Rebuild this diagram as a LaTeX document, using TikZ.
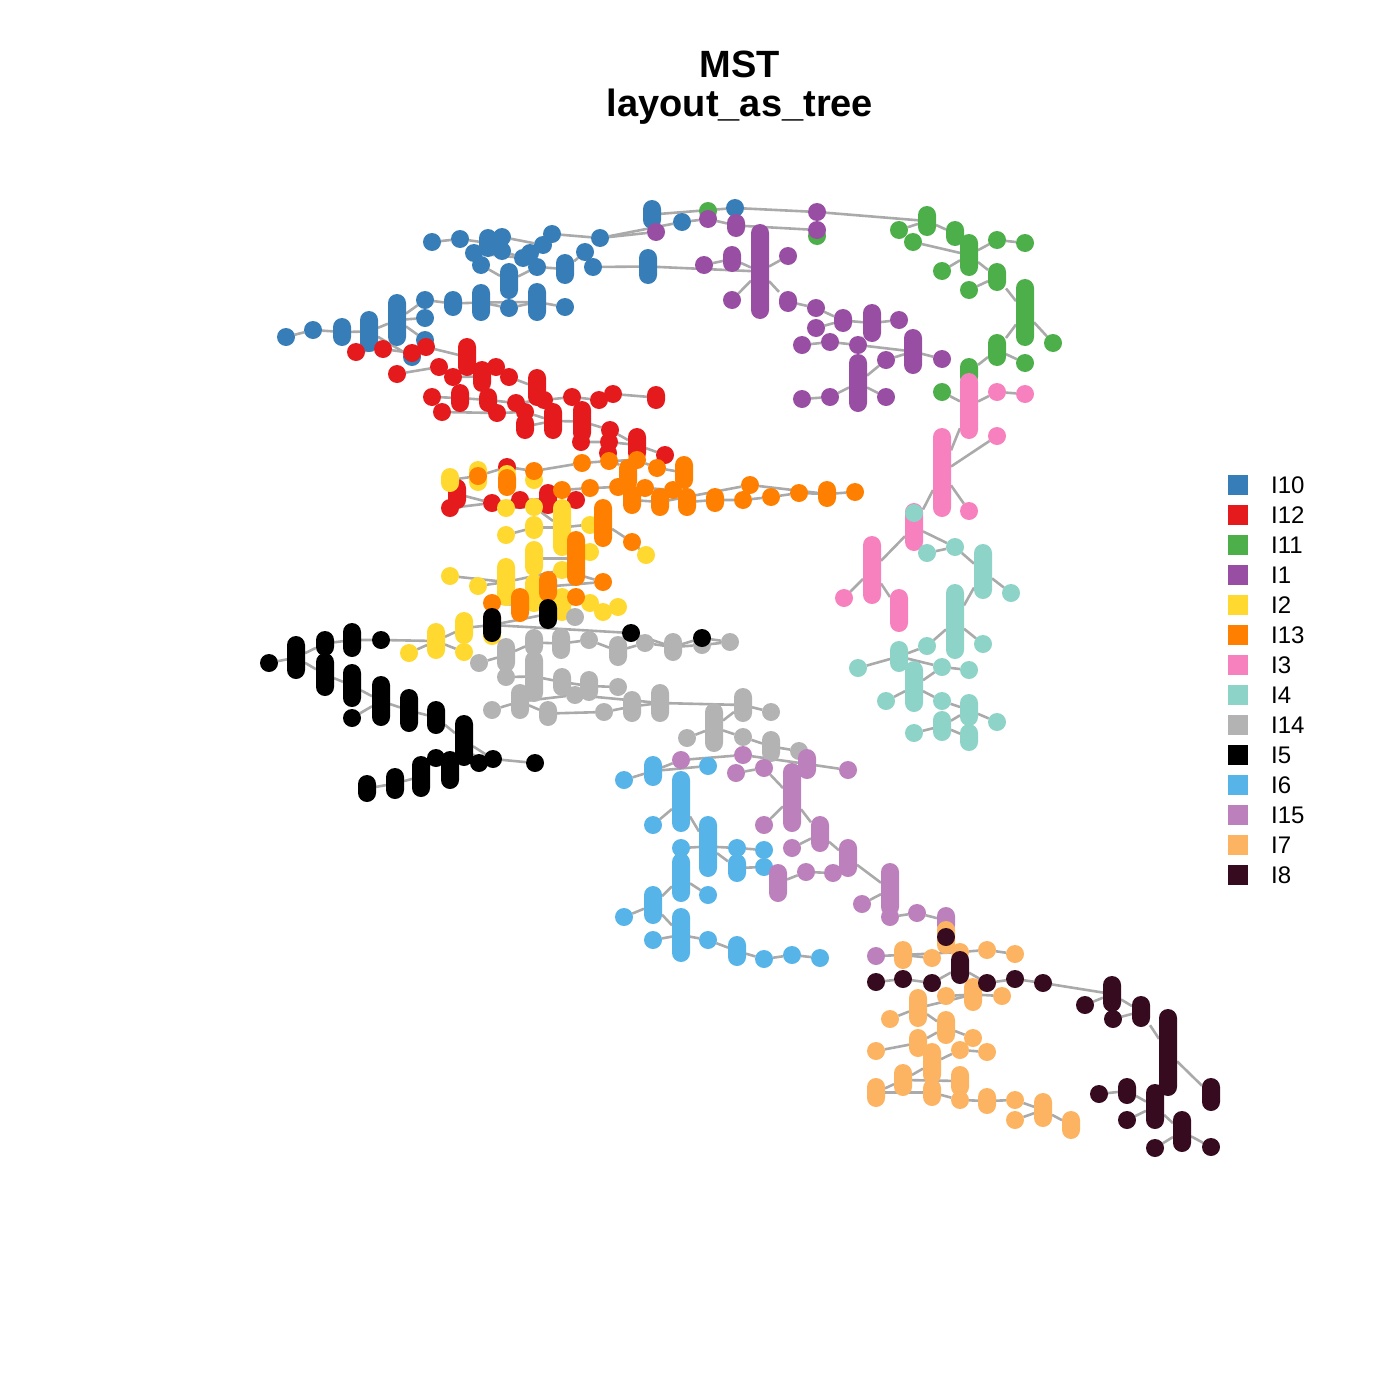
\documentclass[tikz,border=0pt]{standalone}
\usepackage{fontspec}
\setmainfont{Liberation Sans}
\usetikzlibrary{backgrounds}
\definecolor{cA}{HTML}{377EB8}
\definecolor{cB}{HTML}{E41A1C}
\definecolor{cC}{HTML}{4DAF4A}
\definecolor{cD}{HTML}{984EA3}
\definecolor{cE}{HTML}{FFD92F}
\definecolor{cF}{HTML}{FF7F00}
\definecolor{cG}{HTML}{F781BF}
\definecolor{cH}{HTML}{8DD3C7}
\definecolor{cI}{HTML}{B3B3B3}
\definecolor{cJ}{HTML}{000000}
\definecolor{cK}{HTML}{56B4E9}
\definecolor{cL}{HTML}{BC80BD}
\definecolor{cM}{HTML}{FDB462}
\definecolor{cN}{HTML}{360A1F}
\definecolor{edgec}{HTML}{AAAAAA}
\tikzset{
  dotn/.style={circle,inner sep=0pt,outer sep=0pt,minimum size=18pt},
  capn/.style={rectangle,inner sep=0pt,outer sep=0pt,minimum width=18pt,rounded corners=9pt},
  edge/.style={draw=edgec,line width=2.6pt},
  legbox/.style={rectangle,inner sep=0pt,minimum size=20pt},
  legtxt/.style={anchor=west,inner sep=0pt,font=\fontsize{24}{28}\selectfont},
  ttl/.style={inner sep=0pt,font=\fontsize{38}{44}\selectfont\bfseries}
}
\newcommand\dotA[4]{\node[dotn,fill=#2] (#1) at (#3,#4) {};}
\newcommand\capA[5]{\node[capn,fill=#2,minimum height={(#5-#4+18)*1pt}] (#1) at (#3,{(#4+#5)/2}) {};}
\begin{document}
\begin{tikzpicture}[x=1pt,y=-1pt]
\useasboundingbox (0,0) rectangle (1400,1400);
% title
\node[ttl,anchor=base] (t1title) at (740,77) {MST};
\node[ttl,anchor=base] (t2title) at (740,116) {layout\_as\_tree};
% ---------- I10 blue
\capA{b1}{cA}{652}{209}{220}
\dotA{e0}{cC}{708}{211}
\dotA{b3}{cA}{735}{208}
\dotA{b4}{cA}{682}{222}
\dotA{b5}{cA}{432}{242}
\dotA{b6}{cA}{460}{239}
\capA{b7}{cA}{488}{238}{248}
\dotA{b8}{cA}{502}{237}
\dotA{b9}{cA}{502}{251}
\dotA{b10}{cA}{543}{245}
\dotA{b11}{cA}{552}{234}
\dotA{b12}{cA}{600}{238}
\dotA{b13}{cA}{474}{253}
\dotA{b14}{cA}{481}{265}
\capA{b15}{cA}{509}{272}{290}
\dotA{b16}{cA}{523}{258}
\dotA{b17}{cA}{530}{253}
\dotA{b18}{cA}{537}{267}
\capA{b19}{cA}{565}{263}{275}
\dotA{b20}{cA}{585}{252}
\dotA{b21}{cA}{593}{267}
\capA{b22}{cA}{648}{258}{275}
\dotA{b23}{cA}{425}{300}
\capA{b24}{cA}{453}{300}{307}
\capA{b25}{cA}{481}{293}{312}
\dotA{b26}{cA}{509}{308}
\capA{b27}{cA}{537}{292}{312}
\dotA{b28}{cA}{565}{307}
\capA{b29}{cA}{397}{303}{337}
\dotA{b30}{cA}{425}{318}
\dotA{b31}{cA}{425}{340}
\capA{b32}{cA}{369}{320}{343}
\capA{b33}{cA}{342}{327}{337}
\dotA{b34}{cA}{313}{330}
\dotA{b35}{cA}{286}{337}
\dotA{b36}{cA}{412}{357}
% ---------- I11 green
\dotA{e00}{cC}{817}{236}
\capA{e1}{cC}{927}{215}{227}
\dotA{e2}{cC}{899}{230}
\dotA{e3}{cC}{913}{242}
\capA{e4}{cC}{955}{230}{237}
\capA{e5}{cC}{969}{243}{267}
\dotA{e6}{cC}{997}{240}
\dotA{e7}{cC}{1025}{243}
\dotA{e8}{cC}{942}{271}
\capA{e9}{cC}{997}{272}{282}
\dotA{e10}{cC}{969}{290}
\capA{e11}{cC}{1025}{288}{337}
\dotA{e12}{cC}{1053}{343}
\capA{e13}{cC}{997}{343}{357}
\dotA{e14}{cC}{1025}{363}
\capA{e15}{cC}{969}{367}{377}
\dotA{e16}{cC}{942}{392}
% ---------- I1 purple
\dotA{p0}{cD}{656}{232}
\dotA{p1}{cD}{708}{219}
\capA{p2}{cD}{736}{223}{228}
\dotA{p3}{cD}{817}{212}
\dotA{p4}{cD}{817}{230}
\capA{p5}{cD}{760}{233}{310}
\capA{p6}{cD}{732}{255}{263}
\dotA{p7}{cD}{704}{265}
\dotA{p8}{cD}{788}{256}
\dotA{p9}{cD}{732}{300}
\capA{p10}{cD}{788}{300}{303}
\dotA{p11}{cD}{816}{308}
\dotA{p12}{cD}{816}{328}
\capA{p13}{cD}{843}{318}{323}
\capA{p14}{cD}{872}{313}{333}
\dotA{p15}{cD}{899}{320}
\dotA{p16}{cD}{802}{345}
\dotA{p17}{cD}{830}{342}
\dotA{p18}{cD}{858}{345}
\capA{p19}{cD}{913}{338}{365}
\dotA{p20}{cD}{886}{360}
\dotA{p21}{cD}{942}{359}
\capA{p22}{cD}{858}{363}{403}
\dotA{p23}{cD}{802}{399}
\dotA{p24}{cD}{830}{397}
\dotA{p25}{cD}{886}{397}
% ---------- I3 pink
\capA{i1}{cG}{969}{382}{430}
\dotA{i2}{cG}{997}{392}
\dotA{i3}{cG}{1025}{394}
\capA{i4}{cG}{942}{437}{508}
\dotA{i5}{cG}{997}{436}
\dotA{i6}{cG}{969}{511}
\capA{i7}{cG}{914}{512}{542}
\capA{i8}{cG}{872}{545}{595}
\dotA{i9}{cG}{844}{598}
\capA{i10}{cG}{899}{598}{623}
% ---------- I4 teal
\dotA{a1}{cH}{914}{513}
\dotA{a2}{cH}{927}{553}
\dotA{a3}{cH}{955}{547}
\capA{a4}{cH}{983}{553}{590}
\dotA{a5}{cH}{1011}{593}
\capA{a6}{cH}{955}{593}{650}
\dotA{a7}{cH}{927}{646}
\dotA{a8}{cH}{983}{644}
\capA{a9}{cH}{899}{650}{663}
\dotA{a10}{cH}{858}{668}
\dotA{a11}{cH}{942}{667}
\dotA{a12}{cH}{969}{670}
\capA{a13}{cH}{914}{670}{703}
\dotA{a14}{cH}{886}{701}
\dotA{a15}{cH}{942}{701}
\capA{a16}{cH}{969}{703}{717}
\dotA{a17}{cH}{997}{722}
\dotA{a18}{cH}{914}{733}
\capA{a19}{cH}{942}{720}{732}
\capA{a20}{cH}{969}{733}{742}
% ---------- I12 red
\dotA{r1}{cB}{356}{352}
\dotA{r2}{cB}{383}{349}
\dotA{r3}{cB}{412}{353}
\dotA{r4}{cB}{426}{347}
\capA{r5}{cB}{467}{347}{367}
\dotA{r6}{cB}{397}{374}
\dotA{r7}{cB}{439}{367}
\dotA{r8}{cB}{453}{377}
\capA{r9}{cB}{482}{370}{383}
\dotA{r10}{cB}{496}{367}
\dotA{r11}{cB}{509}{377}
\capA{r12}{cB}{537}{378}{397}
\dotA{r13}{cB}{432}{397}
\capA{r14}{cB}{460}{393}{403}
\capA{r15}{cB}{488}{397}{403}
\dotA{r16}{cB}{442}{412}
\dotA{r17}{cB}{497}{413}
\dotA{r18}{cB}{516}{403}
\dotA{r19}{cB}{525}{412}
\dotA{r20}{cB}{544}{400}
\capA{r21}{cB}{553}{412}{430}
\capA{r22}{cB}{525}{423}{430}
\dotA{r23}{cB}{572}{397}
\dotA{r24}{cB}{599}{400}
\dotA{r25}{cB}{613}{394}
\capA{r26}{cB}{656}{395}{400}
\capA{r27}{cB}{582}{410}{433}
\dotA{r28}{cB}{610}{430}
\capA{r29}{cB}{637}{437}{453}
\dotA{r30}{cB}{581}{442}
\dotA{r31}{cB}{609}{442}
\dotA{r32}{cB}{665}{455}
\dotA{r33}{cB}{507}{467}
\dotA{r34}{cB}{608}{453}
\capA{r35}{cB}{457}{488}{500}
\dotA{r36}{cB}{450}{508}
\dotA{r37}{cB}{492}{503}
\dotA{r38}{cB}{520}{500}
\capA{r39}{cB}{548}{493}{505}
\dotA{r40}{cB}{576}{500}
% ---------- I2 yellow
\capA{y1}{cE}{450}{477}{483}
\capA{y2}{cE}{478}{470}{482}
\dotA{y3}{cE}{534}{480}
\dotA{y4}{cE}{507}{474}
\dotA{y5}{cE}{506}{508}
\dotA{y6}{cE}{534}{507}
\capA{y7}{cE}{562}{508}{547}
\dotA{y8}{cE}{590}{525}
\dotA{y9}{cE}{506}{535}
\capA{y10}{cE}{534}{525}{530}
\dotA{y11}{cE}{646}{555}
\capA{y12}{cE}{534}{550}{567}
\dotA{y13}{cE}{590}{552}
\dotA{y14}{cE}{450}{576}
\dotA{y15}{cE}{478}{586}
\capA{y16}{cE}{506}{567}{597}
\dotA{y17}{cE}{562}{570}
\capA{y18}{cE}{534}{583}{603}
\dotA{y19}{cE}{590}{603}
\dotA{y20}{cE}{603}{612}
\dotA{y21}{cE}{618}{607}
\capA{y22}{cE}{562}{597}{612}
\capA{y23}{cE}{464}{621}{635}
\capA{y24}{cE}{436}{632}{650}
\dotA{y25}{cE}{409}{653}
\dotA{y26}{cE}{464}{652}
\dotA{y27}{cE}{492}{636}
% ---------- I13 orange
\dotA{o1}{cF}{478}{476}
\dotA{o2}{cF}{534}{471}
\capA{o3}{cF}{507}{478}{487}
\dotA{o4}{cF}{582}{463}
\dotA{o5}{cF}{609}{461}
\dotA{o6}{cF}{637}{460}
\capA{o6b}{cF}{628}{468}{482}
\dotA{o7}{cF}{657}{468}
\capA{o8}{cF}{684}{465}{480}
\dotA{o9}{cF}{562}{490}
\dotA{o10}{cF}{590}{488}
\dotA{o11}{cF}{618}{487}
\dotA{o12}{cF}{645}{488}
\capA{o13}{cF}{632}{495}{505}
\capA{o14}{cF}{660}{497}{507}
\dotA{o15}{cF}{673}{490}
\capA{o16}{cF}{687}{497}{507}
\capA{o17}{cF}{715}{497}{503}
\dotA{o18}{cF}{743}{500}
\dotA{o19}{cF}{750}{485}
\dotA{o20}{cF}{771}{497}
\dotA{o21}{cF}{799}{493}
\capA{o22}{cF}{827}{490}{498}
\dotA{o23}{cF}{855}{492}
\capA{o24}{cF}{603}{508}{538}
\dotA{o25}{cF}{632}{542}
\capA{o26}{cF}{576}{540}{577}
\capA{o27}{cF}{548}{580}{593}
\dotA{o28}{cF}{603}{582}
\dotA{o29}{cF}{576}{597}
\capA{o30}{cF}{520}{597}{613}
\dotA{o31}{cF}{492}{603}
% ---------- I14 gray
\dotA{g1}{cI}{575}{617}
\dotA{g2}{cI}{479}{663}
\capA{g3}{cI}{506}{647}{663}
\capA{g4}{cI}{534}{638}{647}
\capA{g5}{cI}{561}{637}{650}
\dotA{g6}{cI}{589}{640}
\capA{g7}{cI}{618}{645}{657}
\dotA{g8}{cI}{645}{643}
\capA{g9}{cI}{673}{642}{652}
\dotA{g10}{cI}{702}{645}
\dotA{g11}{cI}{730}{642}
\dotA{g12}{cI}{506}{677}
\capA{g13}{cI}{534}{660}{693}
\capA{g14}{cI}{562}{677}{687}
\capA{g15}{cI}{589}{680}{692}
\dotA{g16}{cI}{618}{687}
\capA{g17}{cI}{520}{693}{710}
\dotA{g18}{cI}{492}{710}
\capA{g19}{cI}{548}{710}{717}
\dotA{g20}{cI}{575}{695}
\dotA{g21}{cI}{604}{712}
\capA{g22}{cI}{632}{700}{713}
\capA{g23}{cI}{660}{693}{713}
\capA{g24}{cI}{743}{697}{713}
\dotA{g25}{cI}{771}{712}
\capA{g26}{cI}{714}{712}{743}
\dotA{g27}{cI}{687}{738}
\dotA{g28}{cI}{743}{737}
\capA{g29}{cI}{771}{740}{753}
\dotA{g30}{cI}{799}{751}
% ---------- I5 black
\capA{k1}{cJ}{492}{617}{633}
\capA{k2}{cJ}{548}{608}{620}
\dotA{k3}{cJ}{631}{633}
\dotA{k4}{cJ}{702}{638}
\dotA{k5}{cJ}{381}{640}
\capA{k6}{cJ}{352}{632}{648}
\capA{k7}{cJ}{325}{640}{647}
\capA{k8}{cJ}{296}{645}{670}
\dotA{k9}{cJ}{269}{663}
\capA{k10}{cJ}{325}{662}{687}
\capA{k11}{cJ}{352}{673}{698}
\capA{k12}{cJ}{381}{685}{717}
\dotA{k13}{cJ}{352}{718}
\capA{k14}{cJ}{409}{698}{723}
\capA{k15}{cJ}{436}{710}{725}
\capA{k16}{cJ}{464}{724}{757}
\dotA{k17}{cJ}{479}{763}
\dotA{k18}{cJ}{493}{759}
\dotA{k19}{cJ}{535}{763}
\capA{k20}{cJ}{450}{760}{780}
\dotA{k21}{cJ}{436}{758}
\capA{k22}{cJ}{421}{765}{788}
\capA{k23}{cJ}{395}{777}{790}
\capA{k24}{cJ}{367}{784}{793}
% ---------- I6 light blue
\dotA{s1}{cK}{624}{780}
\capA{s2}{cK}{653}{765}{777}
\dotA{s3}{cK}{708}{766}
\capA{s4}{cK}{681}{780}{823}
\dotA{s5}{cK}{653}{825}
\capA{s6}{cK}{708}{825}{868}
\dotA{s7}{cK}{681}{848}
\capA{s8}{cK}{681}{862}{893}
\dotA{s9}{cK}{737}{848}
\capA{s10}{cK}{737}{863}{873}
\dotA{s11}{cK}{764}{850}
\dotA{s12}{cK}{764}{867}
\dotA{s13}{cK}{708}{895}
\capA{s14}{cK}{653}{895}{915}
\dotA{s15}{cK}{624}{917}
\capA{s16}{cK}{681}{917}{953}
\dotA{s17}{cK}{653}{940}
\dotA{s18}{cK}{708}{940}
\capA{s19}{cK}{737}{945}{957}
\dotA{s20}{cK}{764}{959}
\dotA{s21}{cK}{792}{955}
\dotA{s22}{cK}{820}{958}
% ---------- I15 lilac
\dotA{q1}{cL}{681}{760}
\dotA{q2}{cL}{743}{755}
\dotA{q3}{cL}{736}{773}
\dotA{q4}{cL}{764}{768}
\capA{q5}{cL}{807}{758}{770}
\dotA{q6}{cL}{848}{770}
\capA{q7}{cL}{792}{772}{823}
\dotA{q8}{cL}{764}{825}
\capA{q9}{cL}{820}{825}{843}
\dotA{q10}{cL}{792}{848}
\capA{q11}{cL}{848}{848}{868}
\dotA{q12}{cL}{806}{872}
\dotA{q13}{cL}{833}{873}
\capA{q14}{cL}{778}{873}{893}
\capA{q15}{cL}{890}{872}{907}
\dotA{q16}{cL}{862}{904}
\dotA{q17}{cL}{890}{917}
\dotA{q18}{cL}{876}{956}
\dotA{q19}{cL}{917}{913}
\capA{q20}{cL}{946}{916}{925}
% ---------- I7 light orange
\capA{t1}{cM}{946}{930}{945}
\capA{t2}{cM}{903}{950}{960}
\dotA{t3}{cM}{932}{958}
\dotA{t4}{cM}{960}{952}
\dotA{t5}{cM}{987}{950}
\dotA{t6}{cM}{1015}{954}
\capA{t7}{cM}{973}{987}{1002}
\dotA{t8}{cM}{946}{996}
\dotA{t9}{cM}{1002}{996}
\capA{t10}{cM}{918}{998}{1018}
\dotA{t11}{cM}{890}{1019}
\capA{t12}{cM}{946}{1020}{1035}
\dotA{t13}{cM}{973}{1038}
\capA{t14}{cM}{918}{1038}{1048}
\dotA{t15}{cM}{876}{1051}
\capA{t16}{cM}{932}{1052}{1075}
\dotA{t17}{cM}{960}{1050}
\dotA{t18}{cM}{987}{1052}
\capA{t19}{cM}{903}{1073}{1087}
\capA{t20}{cM}{960}{1075}{1087}
\capA{t21}{cM}{876}{1087}{1098}
\capA{t22}{cM}{932}{1088}{1097}
\dotA{t23}{cM}{960}{1100}
\capA{t24}{cM}{987}{1097}{1105}
\dotA{t25}{cM}{1015}{1100}
\capA{t26}{cM}{1043}{1102}{1118}
\dotA{t27}{cM}{1015}{1120}
\capA{t28}{cM}{1071}{1120}{1130}
% ---------- I8 dark
\dotA{d1}{cN}{946}{937}
\capA{d2}{cN}{960}{960}{975}
\dotA{d3}{cN}{876}{982}
\dotA{d4}{cN}{903}{979}
\dotA{d5}{cN}{932}{983}
\dotA{d6}{cN}{987}{983}
\dotA{d7}{cN}{1015}{979}
\dotA{d8}{cN}{1043}{983}
\capA{d9}{cN}{1112}{985}{1003}
\dotA{d10}{cN}{1085}{1005}
\dotA{d11}{cN}{1113}{1019}
\capA{d12}{cN}{1141}{1005}{1018}
\capA{d13}{cN}{1168}{1018}{1087}
\dotA{d14}{cN}{1099}{1094}
\capA{d15}{cN}{1127}{1087}{1095}
\capA{d16}{cN}{1155}{1093}{1120}
\capA{d17}{cN}{1211}{1087}{1102}
\dotA{d18}{cN}{1127}{1120}
\capA{d19}{cN}{1182}{1120}{1143}
\dotA{d20}{cN}{1155}{1148}
\dotA{d21}{cN}{1211}{1147}
% ---------- edges
\begin{pgfonlayer}{background}
\draw[edge] (b35)--(b34)--(b33)--(b32)--(b29)--(b23)--(b24)--(b25)--(b27)--(b28);
\draw[edge] (b29)--(b30); \draw[edge] (b32)--(b36); \draw[edge] (b29)--(b31);
\draw[edge] (b25)--(b26)--(b27); \draw[edge] (b14)--(b15)--(b18);
\draw[edge] (b5)--(b6)--(b7)--(b8)--(b10)--(b11)--(b12)--(p0);
\draw[edge] (b7)--(b9)--(b16);
\draw[edge] (b13)--(b16)--(b17)--(b18)--(b19)--(b20)--(b21)--(b22);
\draw[edge] (b1)--(b3)--(p3)--(e1);
\draw[edge] (b12)--(b4)--(p1)--(p2)--(p4);
\draw[edge] (b22)--(p5);
\draw[edge] (p7)--(p6)--(p5)--(p8);
\draw[edge] (p9)--(p5)--(p10)--(p11)--(p13)--(p14)--(p15);
\draw[edge] (p12)--(p13); \draw[edge] (p16)--(p17)--(p18)--(p14);
\draw[edge] (p18)--(p19)--(p21); \draw[edge] (p20)--(p19);
\draw[edge] (p23)--(p24)--(p22)--(p25); \draw[edge] (p22)--(p20);
\draw[edge] (e2)--(e1)--(e4)--(e5); \draw[edge] (e3)--(e5)--(e6)--(e7);
\draw[edge] (e8)--(e5)--(e9)--(e11); \draw[edge] (e10)--(e9);
\draw[edge] (e11)--(e12); \draw[edge] (e13)--(e11); \draw[edge] (e13)--(e14);
\draw[edge] (e15)--(e13); \draw[edge] (e16)--(i1)--(i2)--(i3); \draw[edge] (e15)--(i1);
\draw[edge] (i4)--(i1); \draw[edge] (i4)--(i5); \draw[edge] (i4)--(i6); \draw[edge] (i7)--(i4);
\draw[edge] (i8)--(i7)--(a3)--(a4)--(a5); \draw[edge] (a2)--(a3);
\draw[edge] (i9)--(i8)--(i10);
\draw[edge] (a6)--(a4); \draw[edge] (a7)--(a6)--(a8);
\draw[edge] (a10)--(a9)--(a7); \draw[edge] (a9)--(a11)--(a12);
\draw[edge] (a14)--(a13)--(a15)--(a16)--(a17); \draw[edge] (a13)--(a11);
\draw[edge] (a18)--(a19)--(a20); \draw[edge] (a19)--(a16);
\draw[edge] (r1)--(r2)--(r3)--(r4)--(r5);
\draw[edge] (r6)--(r7)--(r8)--(r9)--(r10)--(r11)--(r12); \draw[edge] (r5)--(r9);
\draw[edge] (r13)--(r14)--(r15)--(r18)--(r20)--(r23)--(r24)--(r25)--(r26);
\draw[edge] (r12)--(r20);
\draw[edge] (r16)--(r17)--(r19)--(r21)--(r27)--(r28)--(r29)--(r32);
\draw[edge] (r22)--(r21); \draw[edge] (r30)--(r31)--(r29); \draw[edge] (r27)--(r30);
\draw[edge] (y1)--(y2)--(r33)--(o2)--(o4)--(o5)--(o6)--(o7)--(o8);
\draw[edge] (r34)--(o6b);
\draw[edge] (r35)--(r37)--(r38)--(r39)--(o9)--(o10)--(o11)--(o12)--(o15)--(o16)--(o17)--(o18)--(o20)--(o21)--(o22)--(o23);
\draw[edge] (r36)--(r37); \draw[edge] (o13)--(o14)--(o19)--(o22); \draw[edge] (o11)--(o13);
\draw[edge] (y5)--(y6)--(y7)--(o24)--(o25)--(y11);
\draw[edge] (y9)--(y10)--(y7); \draw[edge] (y8)--(o24);
\draw[edge] (y12)--(o26)--(y13);
\draw[edge] (y14)--(y16)--(y17)--(o28); \draw[edge] (y15)--(y16);
\draw[edge] (o31)--(o30)--(y18)--(o27)--(o28);
\draw[edge] (y22)--(y19)--(y20)--(y21); \draw[edge] (o29)--(y22);
\draw[edge] (y25)--(y24)--(y23)--(k1)--(k2)--(g1); \draw[edge] (y26)--(y24);
\draw[edge] (k9)--(k8)--(k7)--(k6)--(k5)--(y24);
\draw[edge] (k1)--(k3)--(g9)--(k4)--(g11);
\draw[edge] (k8)--(k10)--(k11)--(k12)--(k14)--(k15)--(k16)--(k18)--(k19);
\draw[edge] (k13)--(k12); \draw[edge] (k16)--(k17); \draw[edge] (k20)--(k16);
\draw[edge] (k21)--(k20); \draw[edge] (k22)--(k21); \draw[edge] (k23)--(k22); \draw[edge] (k24)--(k23);
\draw[edge] (g2)--(g3)--(g4)--(g5)--(g6)--(g7)--(g8)--(g9)--(g10)--(g11);
\draw[edge] (g12)--(g13)--(g14)--(g15)--(g16);
\draw[edge] (g18)--(g17)--(g19)--(g21)--(g22);
\draw[edge] (g17)--(g20)--(g23)--(g24)--(g25); \draw[edge] (g22)--(g23);
\draw[edge] (g27)--(g26)--(g28)--(g29)--(g30); \draw[edge] (g26)--(g24);
\draw[edge] (s1)--(s2)--(q1)--(q2)--(q5)--(q6); \draw[edge] (s2)--(s3);
\draw[edge] (q3)--(q4)--(q7);
\draw[edge] (s5)--(s4)--(s6)--(s9)--(s11); \draw[edge] (s7)--(s6)--(s10)--(s12);
\draw[edge] (s8)--(s13); \draw[edge] (s15)--(s14)--(s8); \draw[edge] (s14)--(s16);
\draw[edge] (s17)--(s16)--(s18)--(s19)--(s20)--(s21)--(s22);
\draw[edge] (q8)--(q7)--(q9)--(q11)--(q15); \draw[edge] (q10)--(q9);
\draw[edge] (q12)--(q13)--(q11); \draw[edge] (q14)--(q12); \draw[edge] (q16)--(q15);
\draw[edge] (q17)--(q19)--(q20);
\draw[edge] (q18)--(t2)--(t4)--(t5)--(t6); \draw[edge] (t3)--(t2); \draw[edge] (t1)--(q20);
\draw[edge] (d3)--(d4)--(d5)--(d2)--(d6)--(d7)--(d8)--(d9); \draw[edge] (d1)--(d2);
\draw[edge] (d10)--(d9)--(d12)--(d13); \draw[edge] (d11)--(d12);
\draw[edge] (d14)--(d15)--(d16)--(d13)--(d17);
\draw[edge] (d18)--(d16)--(d19)--(d21); \draw[edge] (d20)--(d19);
\draw[edge] (t8)--(t7)--(t9); \draw[edge] (t11)--(t10)--(t12)--(t13); \draw[edge] (t10)--(t7);
\draw[edge] (t15)--(t14)--(t16)--(t17)--(t18); \draw[edge] (t14)--(t12);
\draw[edge] (t19)--(t16); \draw[edge] (t21)--(t19)--(t20);
\draw[edge] (t21)--(t22)--(t23)--(t24)--(t25)--(t26)--(t28); \draw[edge] (t27)--(t26);
\end{pgfonlayer}
% ---------- legend
\foreach \c/\l [count=\j from 0] in {cA/I10,cB/I12,cC/I11,cD/I1,cE/I2,cF/I13,cG/I3,cH/I4,cI/I14,cJ/I5,cK/I6,cL/I15,cM/I7,cN/I8}{
  \node[legbox,fill=\c] (lb\j) at (1238,{485+30*\j}) {};
  \node[legtxt] (lt\j) at (1271,{485+30*\j}) {\l};
}
\end{tikzpicture}
\end{document}
